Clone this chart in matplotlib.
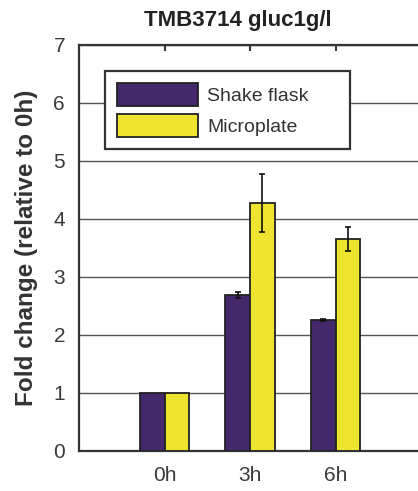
import numpy as np
import matplotlib
matplotlib.use("Agg")
import matplotlib.pyplot as plt

# Data
times = ["0h", "3h", "6h"]
shake_flask = [1.0, 2.69, 2.26]
shake_flask_err = [np.nan, 0.06, 0.02]
microplate = [1.0, 4.27, 3.66]
microplate_err = [np.nan, 0.50, 0.21]

plt.rcParams['font.family'] = ['Liberation Sans', 'DejaVu Sans']

purple = '#43296c'
yellow = '#eee42f'
edge = '#222222'

fig = plt.figure(figsize=(4.18, 4.91), dpi=100)
ax = fig.add_axes([79 / 418, 40 / 491, 342 / 418, 406 / 491])

x = np.arange(1, len(times) + 1)
w = 0.29
err_kw = dict(ecolor='#111111', elinewidth=1.2, capsize=2.5, capthick=1.2)
ax.bar(x - w / 2, shake_flask, w, yerr=shake_flask_err, color=purple,
       edgecolor=edge, linewidth=1.3, label='Shake flask', error_kw=err_kw, zorder=3)
ax.bar(x + w / 2, microplate, w, yerr=microplate_err, color=yellow,
       edgecolor=edge, linewidth=1.3, label='Microplate', error_kw=err_kw, zorder=3)

ax.set_xlim(0, 4)
ax.set_ylim(0, 7)
ax.set_yticks(range(0, 8))
ax.set_xticks(x)
ax.set_xticklabels(times)

ax.grid(axis='y', color='#555555', linewidth=1.0, zorder=0)
ax.set_axisbelow(True)
for side in ['left', 'bottom', 'top']:
    ax.spines[side].set_color('#333333')
    ax.spines[side].set_linewidth(1.6)
ax.spines['right'].set_visible(False)

ax.tick_params(axis='y', length=0, pad=10, labelsize=15, labelcolor='#3a3a3a')
ax.tick_params(axis='x', bottom=False, top=True, direction='in', length=4,
               width=1.5, color='#333333', pad=11, labelsize=15, labelcolor='#3a3a3a')

ax.set_title('TMB3714 gluc1g/l', fontsize=16, fontweight='bold', color='#222222',
             x=0.465, pad=14)
ax.set_ylabel('Fold change (relative to 0h)', fontsize=17.5, fontweight='bold',
              color='#333333')
ax.yaxis.set_label_coords(-0.12, 0.5)

leg = ax.legend(loc='upper left', bbox_to_anchor=(0.076, 0.74, 0.716, 0.196),
                mode='expand', borderaxespad=0, fontsize=14,
                handlelength=4.2, handleheight=1.45, handletextpad=0.46,
                labelspacing=0.42, borderpad=0.6, fancybox=False, framealpha=1)
leg.get_frame().set_edgecolor('#333333')
leg.get_frame().set_linewidth(1.6)
for t in leg.get_texts():
    t.set_color('#333333')

fig.savefig('out.png', dpi=100)
